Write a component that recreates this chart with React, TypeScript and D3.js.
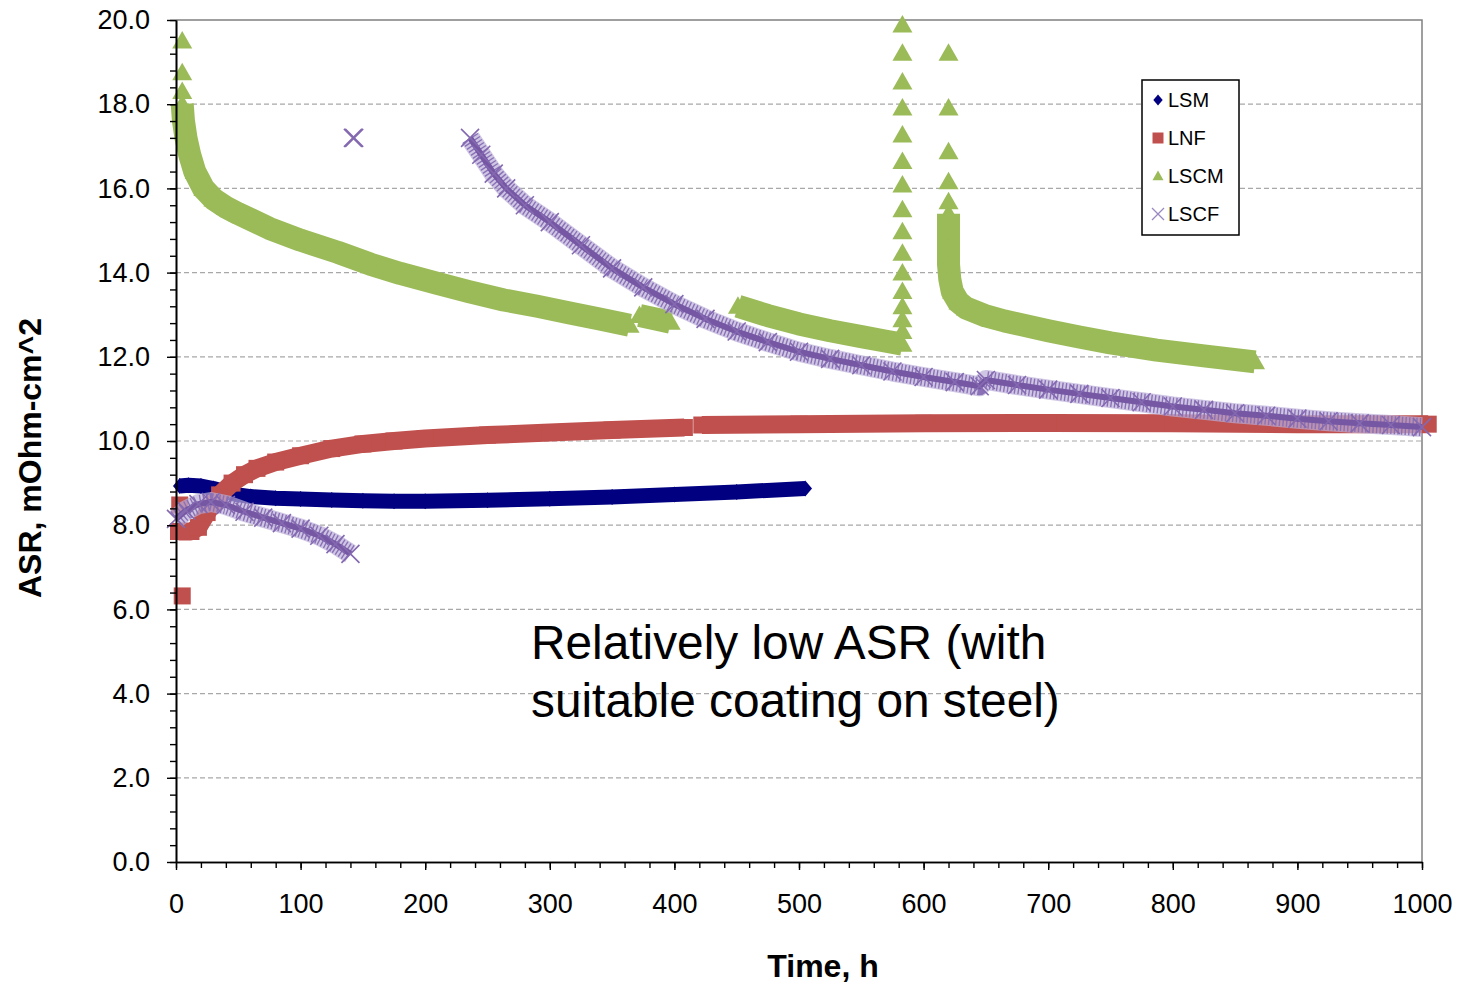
import { useEffect, useRef } from "react";
import * as d3 from "d3";

const WIDTH = 1458;
const HEIGHT = 984;
const FONT = "'Liberation Sans', Arial, sans-serif";

// [time h, ASR mOhm-cm^2]; null = break in the record
type Pt = [number, number] | null;

const lsm: Pt[] = [
  [3, 8.93], [10, 8.95], [20, 8.93], [30, 8.87], [40, 8.79], [50, 8.72],
  [60, 8.68], [80, 8.64], [100, 8.62], [125, 8.6], [150, 8.58], [175, 8.57],
  [200, 8.57], [250, 8.59], [300, 8.63], [350, 8.67], [400, 8.73],
  [450, 8.79], [505, 8.87],
];

const lnf: Pt[] = [
  [2, 7.85], [12, 7.85], [18, 7.95], [25, 8.3], [35, 8.72], [45, 9.0],
  [55, 9.2], [65, 9.35], [80, 9.5], [100, 9.65], [125, 9.82], [150, 9.93],
  [175, 10.0], [200, 10.06], [250, 10.14], [300, 10.2], [350, 10.26],
  [408, 10.32], null, [422, 10.38], [500, 10.4], [600, 10.42], [700, 10.43],
  [800, 10.42], [900, 10.4], [1005, 10.4],
];
const lnfLoose: Pt[] = [[3, 8.48], [5, 6.32]];

const lscm: Pt[] = [
  [5, 18.0], [6, 17.6], [8, 17.2], [11, 16.8], [15, 16.4], [22, 16.0],
  [30, 15.75], [40, 15.55], [50, 15.4], [75, 15.05], [100, 14.77],
  [130, 14.48], [156, 14.2], [180, 13.98], [209, 13.75], [235, 13.55],
  [263, 13.35], [290, 13.2], [316, 13.04], [340, 12.9], [364, 12.75], null,
  [372, 12.98], [385, 12.9], [397, 12.82], null,
  [451, 13.2], [475, 12.98], [500, 12.78], [525, 12.62], [550, 12.48],
  [570, 12.37], [583, 12.3], null,
  [620, 15.4], [620, 15.0], [620, 14.6], [620, 14.2], [621, 13.85],
  [623, 13.55], [628, 13.3], [634, 13.16], [650, 12.97], [665, 12.85],
  [700, 12.62], [725, 12.47], [750, 12.33], [787, 12.16], [825, 12.02],
  [866, 11.88],
];
const lscmLoose: Pt[] = [
  [5, 19.5], [5, 18.75], [5, 18.3],
  [583, 12.6], [583, 12.88], [583, 13.19], [583, 13.55], [583, 13.99],
  [583, 14.46], [583, 14.97], [583, 15.49], [583, 16.08], [583, 16.64],
  [583, 17.27], [583, 17.91], [583, 18.53], [583, 19.21], [583, 19.88],
  [620, 19.21], [620, 17.91], [620, 16.87], [620, 16.16], [620, 15.68],
];

const lscf: Pt[] = [
  [0, 8.15], [8, 8.35], [18, 8.5], [28, 8.55], [40, 8.48], [55, 8.32],
  [70, 8.18], [85, 8.05], [100, 7.92], [115, 7.75], [128, 7.55], [140, 7.32],
  null,
  [236, 17.2], [245, 16.8], [255, 16.35], [265, 16.0], [280, 15.6],
  [300, 15.2], [325, 14.65], [350, 14.1], [375, 13.65], [400, 13.25],
  [425, 12.9], [450, 12.6], [475, 12.35], [500, 12.12], [525, 11.95],
  [550, 11.8], [575, 11.65], [600, 11.52], [625, 11.4], [645, 11.3],
  [650, 11.45], [675, 11.33], [700, 11.22], [725, 11.12], [750, 11.02],
  [775, 10.92], [800, 10.82], [825, 10.74], [850, 10.66], [875, 10.6],
  [900, 10.53], [925, 10.47], [950, 10.42], [975, 10.38], [1000, 10.33],
];
const lscfLoose: Pt[] = [[142, 17.2], [143, 17.2]];

const seriesNames = ["LSM", "LNF", "LSCM", "LSCF"];
const xTicks = d3.range(0, 1001, 100);
const yTicks = d3.range(0, 20.01, 2);
const noteLines = ["Relatively low ASR (with", "suitable coating on steel)"];

// marker shapes, r = half size
const shapes: Record<string, (r: number) => string> = {
  diamond: (r) => `M0,${-r}L${r * 0.85},0L0,${r}L${-r * 0.85},0Z`,
  square: (r) => `M${-r},${-r}h${2 * r}v${2 * r}h${-2 * r}Z`,
  triangle: (r) => `M0,${-r}L${r},${r * 0.75}L${-r},${r * 0.75}Z`,
  cross: (r) => `M${-r},${-r}L${r},${r}M${-r},${r}L${r},${-r}`,
};

const series = [
  { name: seriesNames[0], data: lsm, loose: [] as Pt[], color: "#000080", shape: "diamond", r: 8, band: 15 },
  { name: seriesNames[1], data: lnf, loose: lnfLoose, color: "#C0504D", shape: "square", r: 8.5, band: 18 },
  { name: seriesNames[2], data: lscm, loose: lscmLoose, color: "#9BBB59", shape: "triangle", r: 10, band: 23 },
  { name: seriesNames[3], data: lscf, loose: lscfLoose, color: "#8064A2", shape: "cross", r: 9, band: 20 },
];

export default function App() {
  const svgRef = useRef<SVGSVGElement>(null);

  useEffect(() => {
    if (!svgRef.current) return;
    const svg = d3.select(svgRef.current);
    svg.selectAll("*").remove();

    const x = d3.scaleLinear().domain([0, 1000]).range([176, 1422]);
    const y = d3.scaleLinear().domain([0, 20]).range([862, 20]);

    // background + gridlines
    svg.append("rect").attr("width", WIDTH).attr("height", HEIGHT).attr("fill", "white");

    svg.append("g")
      .selectAll("line")
      .data(yTicks.filter((v) => v > 0 && v < 20))
      .join("line")
      .attr("x1", x(0))
      .attr("x2", x(1000))
      .attr("y1", (d) => y(d))
      .attr("y2", (d) => y(d))
      .attr("stroke", "#a8a8a8")
      .attr("stroke-width", 1.2)
      .attr("stroke-dasharray", "5,3");

    // plot frame (top / right)
    svg.append("path")
      .attr("d", `M${x(0)},${y(20)}H${x(1000)}V${y(0)}`)
      .attr("fill", "none")
      .attr("stroke", "#808080")
      .attr("stroke-width", 1.5);

    // series
    const line = d3
      .line<Pt>()
      .defined((d) => d != null)
      .x((d) => x(d![0]))
      .y((d) => y(d![1]))
      .curve(d3.curveLinear);

    series.forEach((s) => {
      const g = svg.append("g");
      const pts = [...s.data, ...s.loose].filter((d) => d != null) as [number, number][];

      if (s.shape === "cross") {
        // light halo, hatched band of crosses, darker core
        g.append("path")
          .attr("d", line(s.data))
          .attr("fill", "none")
          .attr("stroke", "#BBAED8")
          .attr("stroke-opacity", 0.7)
          .attr("stroke-width", s.band)
          .attr("stroke-linejoin", "round");
        g.append("path")
          .attr("d", line(s.data))
          .attr("fill", "none")
          .attr("stroke", "#8A70B6")
          .attr("stroke-width", s.band - 2)
          .attr("stroke-dasharray", "1.4,2.2")
          .attr("stroke-linejoin", "round");
        g.append("path")
          .attr("d", line(s.data))
          .attr("fill", "none")
          .attr("stroke", "#7657A4")
          .attr("stroke-width", 6)
          .attr("stroke-linejoin", "round");
        g.selectAll("path.m")
          .data(pts)
          .join("path")
          .attr("class", "m")
          .attr("transform", (d) => `translate(${x(d[0])},${y(d[1])})`)
          .attr("d", shapes.cross(s.r))
          .attr("fill", "none")
          .attr("stroke", "#8469B0")
          .attr("stroke-width", 1.6);
      } else {
        g.append("path")
          .attr("d", line(s.data))
          .attr("fill", "none")
          .attr("stroke", s.color)
          .attr("stroke-width", s.band)
          .attr("stroke-linejoin", "round");
        g.selectAll("path.m")
          .data(pts)
          .join("path")
          .attr("class", "m")
          .attr("transform", (d) => `translate(${x(d[0])},${y(d[1])})`)
          .attr("d", shapes[s.shape](s.r))
          .attr("fill", s.color);
      }
    });

    // axes
    const axisStyle = (g: d3.Selection<SVGGElement, unknown, null, undefined>) => {
      g.selectAll(".domain").attr("stroke", "#000").attr("stroke-width", 1.6);
      g.selectAll(".tick line").attr("stroke", "#000").attr("stroke-width", 1.4);
      g.selectAll(".tick text")
        .attr("fill", "#000")
        .style("font-family", FONT)
        .style("font-size", "27px");
    };

    svg.append("g")
      .attr("transform", `translate(0,${y(0)})`)
      .call(d3.axisBottom(x).tickValues(d3.range(0, 1001, 20)).tickSize(6).tickSizeOuter(0).tickFormat(() => ""))
      .call(axisStyle);
    svg.append("g")
      .attr("transform", `translate(0,${y(0)})`)
      .call(d3.axisBottom(x).tickValues(xTicks).tickSize(8).tickSizeOuter(0).tickPadding(24).tickFormat(d3.format("d")))
      .call(axisStyle);

    svg.append("g")
      .attr("transform", `translate(${x(0)},0)`)
      .call(d3.axisLeft(y).tickValues(d3.range(0, 20.01, 0.4)).tickSize(6).tickSizeOuter(0).tickFormat(() => ""))
      .call(axisStyle);
    svg.append("g")
      .attr("transform", `translate(${x(0)},0)`)
      .call(d3.axisLeft(y).tickValues(yTicks).tickSize(9).tickSizeOuter(0).tickPadding(17).tickFormat(d3.format(".1f")))
      .call(axisStyle);

    // axis titles
    svg.append("text")
      .attr("transform", "translate(41,458) rotate(-90)")
      .attr("text-anchor", "middle")
      .style("font-family", FONT)
      .style("font-size", "32px")
      .style("font-weight", "bold")
      .text("ASR, mOhm-cm^2");
    svg.append("text")
      .attr("x", 823)
      .attr("y", 977)
      .attr("text-anchor", "middle")
      .style("font-family", FONT)
      .style("font-size", "32px")
      .style("font-weight", "bold")
      .text("Time, h");

    // annotation
    svg.append("g")
      .selectAll("text")
      .data(noteLines)
      .join("text")
      .attr("x", 531)
      .attr("y", (_, i) => 659 + i * 58)
      .style("font-family", FONT)
      .style("font-size", "47.8px")
      .text((d) => d);

    // legend
    const lg = svg.append("g").attr("transform", "translate(1142,80)");
    lg.append("rect")
      .attr("width", 97)
      .attr("height", 155)
      .attr("fill", "white")
      .attr("stroke", "#000")
      .attr("stroke-width", 1.5);
    series.forEach((s, i) => {
      const row = lg.append("g").attr("transform", `translate(16,${20 + i * 38})`);
      row.append("path")
        .attr("d", shapes[s.shape](s.shape === "cross" ? 6 : 5.5))
        .attr("fill", s.shape === "cross" ? "none" : s.color)
        .attr("stroke", s.shape === "cross" ? "#9A88C0" : "none")
        .attr("stroke-width", 1.3);
      row.append("text")
        .attr("x", 10)
        .attr("dy", "0.36em")
        .style("font-family", FONT)
        .style("font-size", "20px")
        .text(s.name);
    });
  }, []);

  return (
    <svg
      ref={svgRef}
      width={WIDTH}
      height={HEIGHT}
      style={{ position: "absolute", left: 0, top: 0 }}
    ></svg>
  );
}
